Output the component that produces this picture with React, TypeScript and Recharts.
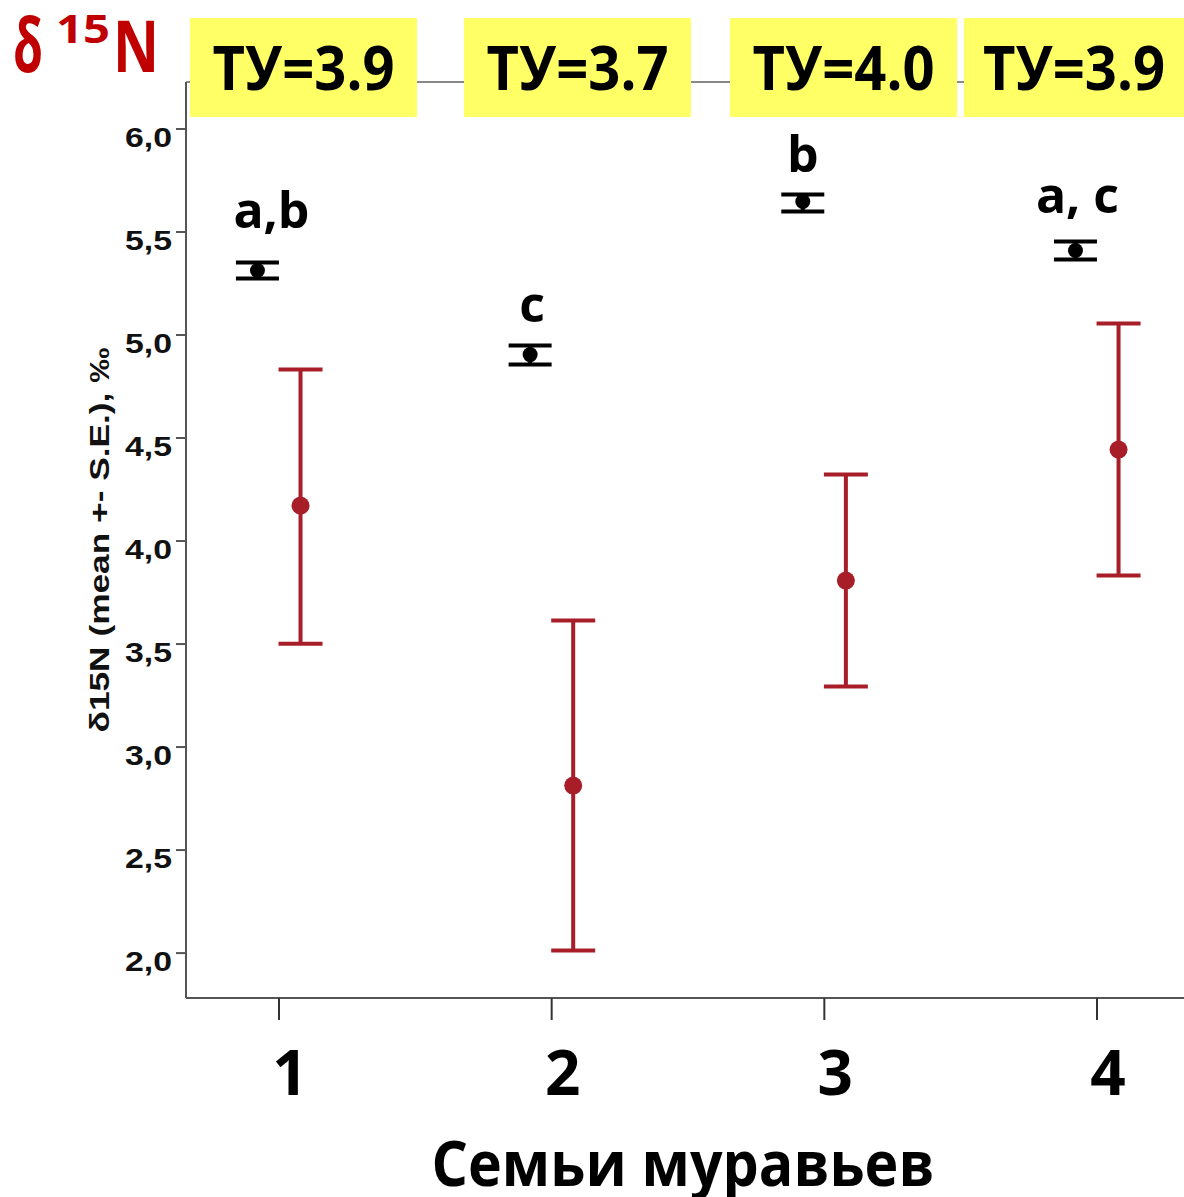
import React from 'react';
import { ScatterChart, Scatter, XAxis, YAxis, ErrorBar, ReferenceLine } from 'recharts';

// ant families and the trophic level shown above each
const families = [1, 2, 3, 4];
const trophicLevels = ['3.9', '3.7', '4.0', '3.9'];
const groupLetters = ['a,b', 'c', 'b', 'a, c'];
const letterY = [5.517, 5.061, 5.789, 5.59];

// black series (mean +- S.E.)
const blackMean = [5.313, 4.905, 5.648, 5.41];
const blackLow = [5.274, 4.857, 5.6, 5.367];
const blackHigh = [5.352, 4.949, 5.682, 5.454];

// red series (mean +- S.E.)
const redMean = [4.172, 2.813, 3.808, 4.444];
const redLow = [3.502, 2.012, 3.294, 3.833];
const redHigh = [4.832, 3.614, 4.323, 5.056];

const yTicks = [2, 2.5, 3, 3.5, 4, 4.5, 5, 5.5, 6];

const OFFSET = 0.079;
const Y_DOMAIN: [number, number] = [1.782, 6.228];
const X_DOMAIN: [number, number] = [0.659, 4.319];
const RED = '#A81E28';
const letterDx = [14, 2, 0, 2];

const blackData = families.map((f, i) => ({
  x: f - OFFSET,
  y: blackMean[i],
  err: [blackMean[i] - blackLow[i], blackHigh[i] - blackMean[i]],
}));
const redData = families.map((f, i) => ({
  x: f + OFFSET,
  y: redMean[i],
  err: [redMean[i] - redLow[i], redHigh[i] - redMean[i]],
}));
const letterData = families.map((f, i) => ({ x: f - OFFSET, y: letterY[i], label: groupLetters[i], i }));

const boxes = [
  [190, 417],
  [464, 691],
  [730, 957],
  [964, 1184],
];

const YTick = ({ x, y, payload }: any) => (
  <text
    x={x}
    y={y + 18}
    textAnchor="end"
    fontFamily="Liberation Sans"
    fontWeight={700}
    fontSize={28}
    fill="#111"
    textLength={47}
    lengthAdjust="spacingAndGlyphs"
  >
    {Number(payload.value).toFixed(1).replace('.', ',')}
  </text>
);

const XTick = ({ x, y, payload }: any) => (
  <text x={x + 11} y={y + 75} textAnchor="middle" fontFamily="Open Sans" fontWeight={700} fontSize={62} fill="#000">
    {payload.value}
  </text>
);

const YLabel = ({ viewBox }: any) => {
  const vb = viewBox || { x: 0, y: 82, width: 186, height: 916 };
  const cx = vb.x + 109;
  const cy = vb.y + vb.height / 2;
  return (
    <text
      x={cx}
      y={cy}
      transform={`rotate(-90 ${cx} ${cy})`}
      textAnchor="middle"
      fontFamily="Liberation Sans"
      fontWeight={700}
      fontSize={27}
      fill="#111"
      textLength={385}
      lengthAdjust="spacingAndGlyphs"
    >
      δ15N (mean +- S.E.), ‰
    </text>
  );
};

const XLabel = ({ viewBox }: any) => {
  const vb = viewBox || { x: 186, y: 998, width: 998, height: 199 };
  return (
    <text
      x={vb.x + vb.width / 2 - 2}
      y={vb.y + 188}
      textAnchor="middle"
      fontFamily="Open Sans"
      fontWeight={700}
      fontSize={62}
      fill="#000"
      textLength={503}
      lengthAdjust="spacingAndGlyphs"
    >
      Семьи муравьев
    </text>
  );
};

const blackDot = (p: any) => <circle cx={p.cx} cy={p.cy} r={7.5} fill="#000" />;
const redDot = (p: any) => <circle cx={p.cx} cy={p.cy} r={9} fill={RED} />;
const letterShape = (p: any) => (
  <text
    x={p.cx + letterDx[p.payload.i]}
    y={p.cy}
    textAnchor="middle"
    fontFamily="Open Sans"
    fontWeight={700}
    fontSize={50}
    fill="#000"
  >
    {p.payload.label}
  </text>
);

export default function App() {
  return (
    <div style={{ position: 'absolute', left: 0, top: 0, width: 1184, height: 1197, background: '#fff' }}>
      <ScatterChart width={1184} height={1197} margin={{ top: 82, right: 0, left: 0, bottom: 0 }}>
        <XAxis
          type="number"
          dataKey="x"
          domain={X_DOMAIN}
          allowDataOverflow
          ticks={families}
          height={199}
          tickSize={22}
          tickMargin={0}
          tick={<XTick />}
          axisLine={{ stroke: '#555', strokeWidth: 2 }}
          tickLine={{ stroke: '#333', strokeWidth: 2 }}
          label={<XLabel />}
        />
        <YAxis
          type="number"
          dataKey="y"
          domain={Y_DOMAIN}
          allowDataOverflow
          ticks={yTicks}
          width={186}
          tickSize={10}
          tickMargin={4}
          tick={<YTick />}
          axisLine={{ stroke: '#555', strokeWidth: 2 }}
          tickLine={{ stroke: '#555', strokeWidth: 2 }}
          label={<YLabel />}
        />
        <ReferenceLine y={Y_DOMAIN[1]} stroke="#888" strokeWidth={2} ifOverflow="visible" />
        <Scatter data={blackData} shape={blackDot} isAnimationActive={false}>
          <ErrorBar dataKey="err" direction="y" width={21.5} stroke="#000" strokeWidth={4} />
        </Scatter>
        <Scatter data={redData} shape={redDot} isAnimationActive={false}>
          <ErrorBar dataKey="err" direction="y" width={22} stroke={RED} strokeWidth={4} />
        </Scatter>
        <Scatter data={letterData} shape={letterShape} isAnimationActive={false} />
      </ScatterChart>
      <svg width={1184} height={130} style={{ position: 'absolute', left: 0, top: 0, pointerEvents: 'none' }}>
        <text x={13} y={72} fill="#C00000" fontFamily="Open Sans" fontWeight={700} fontSize={76} textLength={30} lengthAdjust="spacingAndGlyphs">
          δ
        </text>
        <text x={56} y={43} fill="#C00000" fontFamily="Open Sans" fontWeight={700} fontSize={40} textLength={54} lengthAdjust="spacingAndGlyphs">
          15
        </text>
        <text x={113} y={72} fill="#C00000" fontFamily="Open Sans" fontWeight={700} fontSize={72} textLength={46} lengthAdjust="spacingAndGlyphs">
          N
        </text>
        {boxes.map(([x0, x1], i) => (
          <g key={i}>
            <rect x={x0} y={18} width={x1 - x0} height={99} fill="#FFFF66" />
            <text
              x={(x0 + x1) / 2}
              y={90}
              textAnchor="middle"
              fontFamily="Open Sans"
              fontWeight={700}
              fontSize={60}
              fill="#000"
              textLength={182}
              lengthAdjust="spacingAndGlyphs"
            >
              ТУ={trophicLevels[i]}
            </text>
          </g>
        ))}
      </svg>
    </div>
  );
}
